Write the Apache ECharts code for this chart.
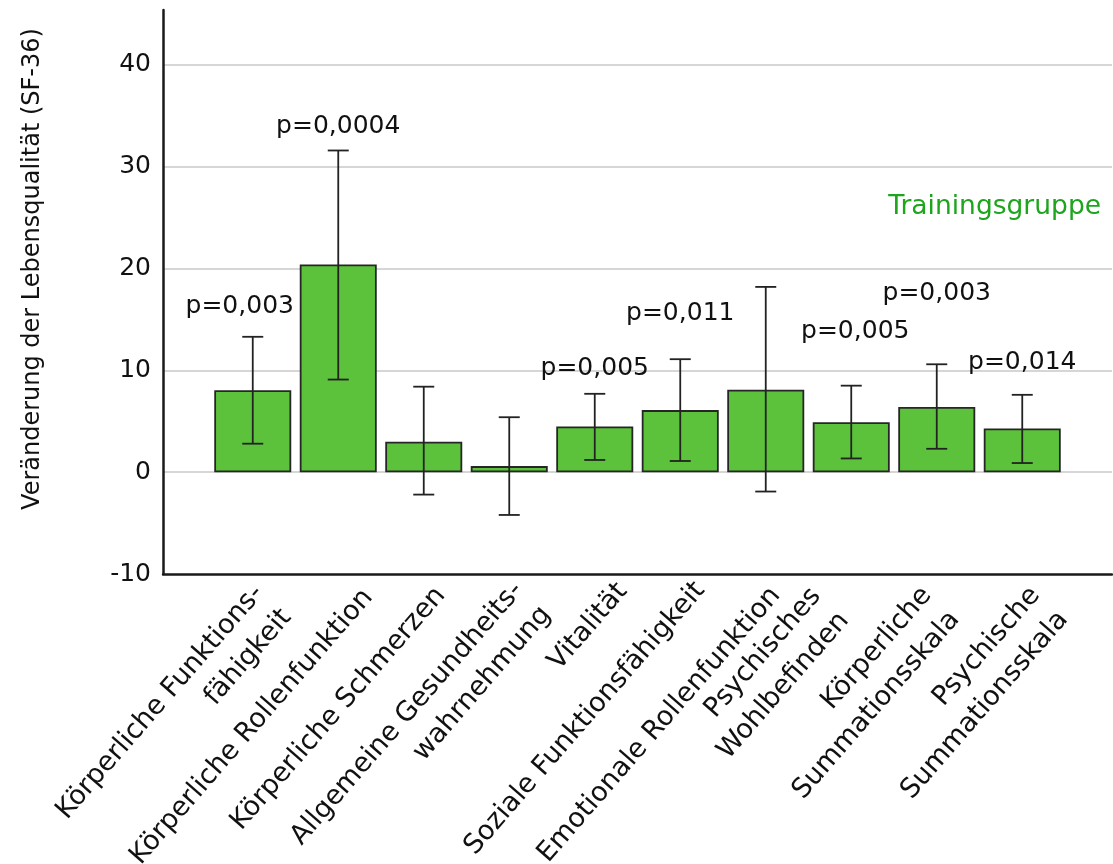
<!DOCTYPE html>
<html>
<head>
<meta charset="utf-8">
<script src="https://cdn.jsdelivr.net/npm/echarts@6/dist/echarts.min.js"></script>
<style>
  html, body { margin: 0; padding: 0; background: #fff; }
  #chart { width: 1113px; height: 864px; }
</style>
</head>
<body>
<div id="chart"></div>
<script>
const categories = [
  'Körperliche Funktions-\nfähigkeit',
  'Körperliche Rollenfunktion',
  'Körperliche Schmerzen',
  'Allgemeine Gesundheits-\nwahrnehmung',
  'Vitalität',
  'Soziale Funktionsfähigkeit',
  'Emotionale Rollenfunktion',
  'Psychisches\nWohlbefinden',
  'Körperliche\nSummationsskala',
  'Psychische\nSummationsskala'
]
const meanChange = [8.05, 20.4, 3.0, 0.6, 4.5, 6.1, 8.1, 4.9, 6.4, 4.3]
const ciUpper = [13.3, 31.6, 8.4, 5.4, 7.7, 11.1, 18.2, 8.5, 10.6, 7.6]
const ciLower = [2.8, 9.1, -2.2, -4.2, 1.2, 1.1, -1.9, 1.35, 2.3, 0.9]
// p-values with the category they belong to and the height the label sits at
const pTexts = ['p=0,003', 'p=0,0004', 'p=0,005', 'p=0,011', 'p=0,005', 'p=0,003', 'p=0,014']
const pCategory = [0, 1, 4, 5, 7, 8, 9]
const pLabelY = [16.3, 34.0, 10.2, 15.6, 13.8, 17.6, 10.8]
const yTicks = [-10, 0, 10, 20, 30, 40]

// the rotated category labels in the original are not placed uniformly,
// pixel nudge of each label from its tick on the bottom axis
const labelNudge = [
  [20, 27], [30, 19], [17, 17], [23, 24], [28, 13],
  [20, 12], [10, 17], [-21, 30], [4, 29], [27, 29]
]

const FONT = 'DejaVu Sans'
const chart = echarts.init(document.getElementById('chart'))

const option = {
  animation: false,
  backgroundColor: '#fff',
  textStyle: { fontFamily: FONT },
  title: {
    text: 'Trainingsgruppe',
    right: 7,
    top: 189,
    textStyle: { color: '#1ea51e', fontSize: 26.5, fontWeight: 'normal', fontFamily: FONT }
  },
  grid: [
    { left: 163, right: 1, top: 10, bottom: 290, outerBoundsMode: 'none' },
    { left: 210, width: 855, top: 10, bottom: 290, outerBoundsMode: 'none' }
  ],
  xAxis: [
    {
      gridIndex: 0,
      type: 'value',
      min: 0,
      max: 1,
      axisLine: { show: true, onZero: false, lineStyle: { color: '#1a1a1a', width: 2.5 } },
      axisTick: { show: false },
      axisLabel: { show: false },
      splitLine: { show: false }
    },
    {
      gridIndex: 1,
      type: 'category',
      data: categories,
      boundaryGap: true,
      axisLine: { show: false, onZero: false },
      axisTick: { show: false },
      // labels are drawn by the custom series below so each can be nudged
      axisLabel: { show: false }
    }
  ],
  yAxis: [
    {
      gridIndex: 0,
      type: 'value',
      min: -10,
      max: 45.4,
      interval: 10,
      name: 'Veränderung der Lebensqualität (SF-36)',
      nameLocation: 'middle',
      nameRotate: 90,
      nameGap: 118,
      nameTextStyle: { fontSize: 24, color: '#111', fontFamily: FONT, padding: [0, 0, 0, 46] },
      axisLine: { show: true, onZero: false, lineStyle: { color: '#1a1a1a', width: 2.5 } },
      axisTick: { show: false },
      axisLabel: {
        fontSize: 25,
        color: '#111',
        margin: 12,
        fontFamily: FONT,
        showMaxLabel: false,
        formatter: v => (yTicks.indexOf(v) >= 0 ? String(v) : '')
      },
      splitLine: {
        show: true,
        showMaxLine: false,
        showMinLine: false,
        lineStyle: { color: '#d6d6d6', width: 2 }
      }
    },
    {
      gridIndex: 1,
      type: 'value',
      min: -10,
      max: 45.4,
      interval: 10,
      show: false,
      splitLine: { show: false }
    }
  ],
  series: [
    {
      name: 'Trainingsgruppe',
      type: 'bar',
      xAxisIndex: 1,
      yAxisIndex: 1,
      barWidth: 77,
      data: meanChange,
      itemStyle: {
        color: '#5dc23b',
        borderColor: '#262626',
        borderWidth: 1.8
      },
      z: 2
    },
    {
      type: 'custom',
      xAxisIndex: 1,
      yAxisIndex: 1,
      data: categories.map((c, i) => [i, ciUpper[i], ciLower[i]]),
      renderItem (params, api) {
        const top = api.coord([api.value(0), api.value(1)])
        const bottom = api.coord([api.value(0), api.value(2)])
        const half = 10.5
        const style = { stroke: '#222', lineWidth: 1.8 }
        return {
          type: 'group',
          children: [
            { type: 'line', shape: { x1: top[0], y1: top[1], x2: bottom[0], y2: bottom[1] }, style },
            { type: 'line', shape: { x1: top[0] - half, y1: top[1], x2: top[0] + half, y2: top[1] }, style },
            { type: 'line', shape: { x1: bottom[0] - half, y1: bottom[1], x2: bottom[0] + half, y2: bottom[1] }, style }
          ]
        }
      },
      z: 3
    },
    {
      // category labels under the axis, rotated like the original
      type: 'custom',
      xAxisIndex: 1,
      yAxisIndex: 1,
      clip: false,
      silent: true,
      data: categories.map((c, i) => [i, -10]),
      renderItem (params, api) {
        const i = params.dataIndex
        const p = api.coord([api.value(0), api.value(1)])
        return {
          type: 'text',
          x: p[0] + labelNudge[i][0],
          y: p[1] + labelNudge[i][1],
          rotation: 49 * Math.PI / 180,
          style: {
            text: categories[i],
            align: 'right',
            verticalAlign: 'middle',
            fontSize: 27,
            lineHeight: 37,
            fontFamily: FONT,
            fill: '#111'
          }
        }
      },
      z: 4
    },
    {
      type: 'scatter',
      xAxisIndex: 1,
      yAxisIndex: 1,
      symbolSize: 0,
      silent: true,
      itemStyle: { opacity: 1 },
      data: pTexts.map((t, i) => ({
        value: [pCategory[i], pLabelY[i]],
        label: { formatter: t, offset: [i === 0 ? -13 : (i === 4 ? 4 : 0), 0] }
      })),
      label: {
        show: true,
        position: [0, 0],
        align: 'center',
        verticalAlign: 'middle',
        fontSize: 25,
        color: '#111',
        opacity: 1,
        textBorderWidth: 0,
        fontFamily: FONT
      },
      z: 4
    }
  ]
}

chart.setOption(option)
</script>
</body>
</html>
